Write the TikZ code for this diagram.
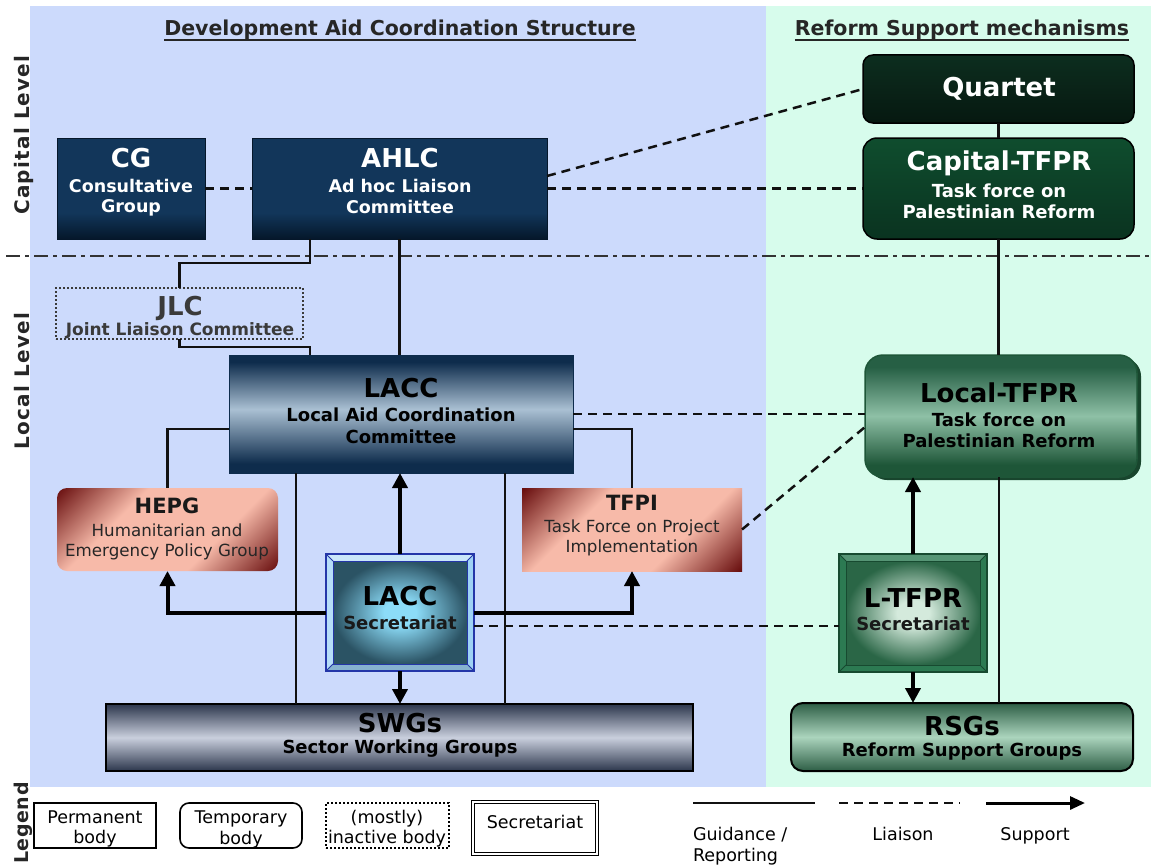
\documentclass[tikz,border=0pt]{standalone}
\usepackage{fontspec}
\setmainfont{DejaVu Sans}
\usetikzlibrary{arrows.meta,fit,calc}
\definecolor{bluebg}{HTML}{CCDAFC}
\definecolor{greenbg}{HTML}{D7FCEC}
\definecolor{navy}{HTML}{12365A}
\definecolor{navyD}{HTML}{05172A}
\definecolor{qtop}{HTML}{0D2E1F}
\definecolor{qbot}{HTML}{061810}
\definecolor{ctop}{HTML}{0F4D2E}
\definecolor{cbot}{HTML}{0A3320}
\definecolor{laccD}{HTML}{0E2C4C}
\definecolor{laccL}{HTML}{AAC0D3}
\definecolor{swgD}{HTML}{2C364C}
\definecolor{swgL}{HTML}{C9CFDD}
\definecolor{ltD}{HTML}{265F44}
\definecolor{ltL}{HTML}{8EC0A6}
\definecolor{ltB}{HTML}{1E5638}
\definecolor{rsD}{HTML}{2D5E45}
\definecolor{rsL}{HTML}{ABD4BD}
\definecolor{pinkL}{HTML}{F7BAA9}
\definecolor{pinkD}{HTML}{6A1010}
\definecolor{secF}{HTML}{9ED2F5}
\definecolor{secE}{HTML}{2436A8}
\definecolor{secL}{HTML}{8CDCF8}
\definecolor{secD}{HTML}{2B5364}
\definecolor{lsF}{HTML}{2C7A52}
\definecolor{lsE}{HTML}{174A30}
\definecolor{lsL}{HTML}{D4EADC}
\definecolor{lsD}{HTML}{2A6646}
\definecolor{lineC}{HTML}{111111}
\definecolor{jlcC}{HTML}{3A3A3A}
\pgfdeclareverticalshading{navysh}{100bp}{color(0bp)=(navyD); color(25bp)=(navyD); color(38bp)=(navy); color(75bp)=(navy); color(100bp)=(navy)}
\pgfdeclareverticalshading{laccsh}{100bp}{color(0bp)=(laccD); color(25bp)=(laccD); color(29bp)=(laccD); color(52bp)=(laccL); color(72bp)=(laccD); color(100bp)=(laccD)}
\pgfdeclareverticalshading{swgsh}{100bp}{color(0bp)=(swgD); color(25bp)=(swgD); color(50bp)=(swgL); color(75bp)=(swgD); color(100bp)=(swgD)}
\pgfdeclareverticalshading{ltsh}{100bp}{color(0bp)=(ltB); color(25bp)=(ltB); color(30bp)=(ltB); color(50bp)=(ltL); color(70bp)=(ltD); color(100bp)=(ltD)}
\pgfdeclareverticalshading{rssh}{100bp}{color(0bp)=(rsD); color(25bp)=(rsD); color(50bp)=(rsL); color(75bp)=(rsD); color(100bp)=(rsD)}
\pgfdeclarehorizontalshading{pinksh}{100bp}{color(0bp)=(pinkD); color(15bp)=(pinkD); color(36bp)=(pinkL); color(64bp)=(pinkL); color(85bp)=(pinkD); color(100bp)=(pinkD)}
\pgfdeclareradialshading{secsh}{\pgfpoint{0bp}{0bp}}{color(0bp)=(secL); color(6bp)=(secL); color(25bp)=(secD); color(50bp)=(secD)}
\pgfdeclareradialshading{lssh}{\pgfpoint{0bp}{0bp}}{color(0bp)=(lsL); color(6bp)=(lsL); color(25bp)=(lsD); color(50bp)=(lsD)}
\newcommand\myT{\fontsize{26}{30}\selectfont\bfseries}
\newcommand\myS{\fontsize{18}{22}\selectfont\bfseries}
\newcommand\myC{\fontsize{17.5}{22}\selectfont\bfseries}
\newcommand\myH{\fontsize{20.5}{24}\selectfont\bfseries}
\newcommand\myR{\fontsize{20}{24}\selectfont\bfseries\addfontfeatures{LetterSpace=6}}
\newcommand\myRg{\fontsize{19}{24}\selectfont\bfseries\addfontfeatures{LetterSpace=3}}
\newcommand\myN{\fontsize{16.7}{20}\selectfont}
\newcommand\myL{\fontsize{17.5}{21}\selectfont}
\newcommand\myP{\fontsize{21}{24}\selectfont\bfseries}
\begin{document}
\begin{tikzpicture}[x=1pt,y=-1pt,
  txt/.style={anchor=base, inner sep=0pt, outer sep=0pt},
  bx/.style={inner sep=0pt, outer sep=0pt},
  navybox/.style={bx, shade, shading=navysh, draw=navyD, line width=1pt},
  guide/.style={draw=lineC, line width=2.2pt},
  liaison/.style={draw=lineC, line width=2.5pt, dash pattern=on 9pt off 6pt},
  sup/.style={draw=black, line width=4pt, -{Triangle[length=15pt,width=15pt]}},
  pinkbox/.style={bx, shade, shading=pinksh, shading angle=-45},
  legbox/.style={bx, draw=black, line width=1.6pt, fill=white}]
\useasboundingbox (0,0) rectangle (1151,867);
\fill[white] (0,0) rectangle (1151,867);
\fill[bluebg] (30,6) rectangle (766,787);
\fill[greenbg] (766,6) rectangle (1151,787);

% titles
\node[txt, font=\myH, text=black!85] (t1) at (400,36) {Development Aid Coordination Structure};
\draw[line width=1.6pt, black!85] ($(t1.base west)+(0,4)$) -- ($(t1.base east)+(0,4)$);
\node[txt, font=\myH, text=black!85] (t2) at (962,36) {Reform Support mechanisms};
\draw[line width=1.6pt, black!85] ($(t2.base west)+(0,4)$) -- ($(t2.base east)+(0,4)$);

% side labels
\node[txt, rotate=90, font=\myR, text=black!85] (lvc) at (29,135) {Capital Level};
\node[txt, rotate=90, font=\myR, text=black!85] (lvl) at (29,381) {Local Level};
\node[txt, rotate=90, font=\myRg, text=black!85] (lvg) at (28,823) {Legend};

% level separator
\coordinate (sepA) at (6,256);
\coordinate (sepB) at (1151,256);
\draw[line width=2pt, black!80, dash pattern=on 14pt off 5pt on 4pt off 5pt] (sepA) -- (sepB);

% ---------- boxes ----------
\node[navybox, fit={(57,138)(205,239)}] (cg) {};
\node[txt, text=white, font=\myT] (cgA) at (131,167) {CG};
\node[txt, text=white, font=\myC] (cgB) at (131,192) {Consultative};
\node[txt, text=white, font=\myC] (cgC) at (131,212) {Group};

\node[navybox, fit={(252,138)(547,239)}] (ahlc) {};
\node[txt, text=white, font=\myT] (ahA) at (400,167) {AHLC};
\node[txt, text=white, font=\myC] (ahB) at (400,192) {Ad hoc Liaison};
\node[txt, text=white, font=\myC] (ahC) at (400,213) {Committee};

\node[bx, fit={(863,55)(1134,123)}, rounded corners=10pt, shade, top color=qtop, bottom color=qbot, draw=black, line width=1.5pt] (quartet) {};
\node[txt, text=white, font=\myT] (qA) at (999,96) {Quartet};

\node[bx, fit={(863,138)(1134,239)}, rounded corners=14pt, shade, top color=ctop, bottom color=cbot, draw=black, line width=1.5pt] (captfpr) {};
\node[txt, text=white, font=\myT] (cpA) at (999,170) {Capital-TFPR};
\node[txt, text=white, font=\myS] (cpB) at (999,197) {Task force on};
\node[txt, text=white, font=\myS] (cpC) at (999,218) {Palestinian Reform};

\node[bx, fit={(56,288)(303,339)}, draw=jlcC, line width=2pt, dash pattern=on 2pt off 2pt] (jlc) {};
\node[txt, text=jlcC, font=\myT] (jlA) at (180,315) {JLC};
\node[txt, text=jlcC, font=\fontsize{17}{20}\selectfont\bfseries] (jlB) at (180,335) {Joint Liaison Committee};

\node[bx, fit={(229,355)(573,473)}, shade, shading=laccsh, draw=laccD, line width=1pt] (lacc) {};
\node[txt, font=\myT] (laA) at (401,397) {LACC};
\node[txt, font=\myS] (laB) at (401,421) {Local Aid Coordination};
\node[txt, font=\myS] (laC) at (401,443) {Committee};

\node[pinkbox, fit={(57,488)(278,571)}, rounded corners=10pt] (hepg) {};
\node[txt, font=\myP, text=black!90] (heA) at (167,513) {HEPG};
\node[txt, font=\myN, text=black!85] (heB) at (167,536) {Humanitarian and};
\node[txt, font=\myN, text=black!85] (heC) at (167,556) {Emergency Policy Group};

\node[pinkbox, fit={(522,488)(742,571)}] (tfpi) {};
\node[txt, font=\myP, text=black!90] (tfA) at (632,510) {TFPI};
\node[txt, font=\myN, text=black!85] (tfB) at (632,532) {Task Force on Project};
\node[txt, font=\myN, text=black!85] (tfC) at (632,552) {Implementation};

\node[bx, fit={(106,704)(693,771)}, shade, shading=swgsh, draw=black, line width=2pt] (swgs) {};
\node[txt, font=\myT] (swA) at (400,732) {SWGs};
\node[txt, font=\myS] (swB) at (400,753) {Sector Working Groups};

% Local-TFPR with shadow
\fill[ltB!80!black, rounded corners=18pt] (869,358) rectangle (1141,480);
\node[bx, fit={(865,355)(1137,477)}, rounded corners=18pt, shade, shading=ltsh, draw=ltB, line width=1.5pt] (localtfpr) {};
\node[txt, font=\myT] (ltA) at (999,402) {Local-TFPR};
\node[txt, font=\myS] (ltB) at (999,426) {Task force on};
\node[txt, font=\myS] (ltC) at (999,447) {Palestinian Reform};

\node[bx, fit={(791,703)(1133,771)}, rounded corners=12pt, shade, shading=rssh, draw=black, line width=2pt] (rsgs) {};
\node[txt, font=\myT] (rsA) at (962,735) {RSGs};
\node[txt, font=\myS] (rsB) at (962,756) {Reform Support Groups};

% LACC Secretariat
\node[bx, fit={(326,554)(474,671)}, fill=secF, draw=secE, line width=1.6pt] (lsec) {};
\fill[secF!55!white] (326,554) -- (474,554) -- (467,561) -- (333,561) -- cycle;
\fill[secF!75!white] (326,554) -- (333,561) -- (333,664) -- (326,671) -- cycle;
\fill[secF!85!black] (326,671) -- (333,664) -- (467,664) -- (474,671) -- cycle;
\shade[shading=secsh] (333,561) rectangle (467,664);
\draw[secE, line width=1pt] (333,561) rectangle (467,664);
\draw[secE, line width=1pt] (lsec.north west) -- (333,561) (lsec.north east) -- (467,561) (lsec.south west) -- (333,664) (lsec.south east) -- (467,664);
\draw[secE, line width=1.6pt] (lsec.north west) rectangle (lsec.south east);
\node[txt, font=\myT] (lsA) at (400,605) {LACC};
\node[txt, font=\myS, text=black!90] (lsB) at (400,629) {Secretariat};

% L-TFPR Secretariat
\node[bx, fit={(839,554)(987,672)}, fill=lsF, draw=lsE, line width=1.6pt] (ltsec) {};
\fill[lsF!80!white] (839,554) -- (987,554) -- (980,561) -- (846,561) -- cycle;
\shade[shading=lssh] (846,561) rectangle (980,665);
\draw[lsE, line width=1pt] (846,561) rectangle (980,665);
\draw[lsE, line width=1pt] (ltsec.north west) -- (846,561) (ltsec.north east) -- (980,561) (ltsec.south west) -- (846,665) (ltsec.south east) -- (980,665);
\draw[lsE, line width=1.6pt] (ltsec.north west) rectangle (ltsec.south east);
\node[txt, font=\myT] (lxA) at (913,607) {L-TFPR};
\node[txt, font=\myS, text=black!90] (lxB) at (913,630) {Secretariat};

% ---------- connectors ----------
\draw[liaison] (cg.east) -- (ahlc.west);
\draw[liaison] ([yshift=12.5pt]ahlc.east) -- (quartet.west);
\draw[liaison] (ahlc.east) -- (ahlc.east -| captfpr.west);
\draw[guide] (quartet.south) -- (captfpr.north);
\draw[guide] (captfpr.south) -- (captfpr.south |- localtfpr.north);
\draw[guide] (ahlc.south -| 310,0) |- (jlc.north |- 0,263) -- (jlc.north);
\coordinate (jlcturn) at (310,347);
\draw[guide] (jlc.south) |- (jlcturn) -- (lacc.north -| jlcturn);
\draw[guide] (ahlc.south) -- (ahlc.south |- lacc.north);
\draw[guide] ([yshift=-15pt]lacc.west) -| (hepg.north);
\draw[guide] ([yshift=-15pt]lacc.east) -| (tfpi.north);
\draw[guide] (lacc.south -| 296,0) -- (swgs.north -| 296,0);
\draw[guide] (lacc.south -| 505,0) -- (swgs.north -| 505,0);
\draw[sup] (lsec.north) -- (lsec.north |- lacc.south);
\draw[sup] (lsec.west) -| (hepg.south);
\draw[sup] (lsec.east) -| (tfpi.south);
\draw[sup] (lsec.south) -- (lsec.south |- swgs.north);
\draw[liaison] ([yshift=-13.5pt]lsec.east) -- ([yshift=-13.5pt]lsec.east -| ltsec.west);
\draw[liaison] (lacc.east) -- (lacc.east -| localtfpr.west);
\draw[liaison] (tfpi.east) -- ([yshift=-11pt]localtfpr.west);
\draw[sup] (ltsec.north) -- (ltsec.north |- localtfpr.south);
\draw[sup] (ltsec.south) -- (ltsec.south |- rsgs.north);
\draw[guide] (localtfpr.south -| 999,0) -- (rsgs.north -| 999,0);

% ---------- legend ----------
\node[legbox, fit={(34,803)(156,848)}] (lgP) {};
\node[txt, font=\myL] (lgPa) at (95,823) {Permanent};
\node[txt, font=\myL] (lgPb) at (95,843) {body};
\node[legbox, fit={(180,803)(302,848)}, rounded corners=9pt] (lgT) {};
\node[txt, font=\myL] (lgTa) at (241,823) {Temporary};
\node[txt, font=\myL] (lgTb) at (241,844) {body};
\node[bx, fit={(326,803)(449,848)}, draw=black, fill=white, line width=2pt, dash pattern=on 2pt off 2pt] (lgI) {};
\node[txt, font=\myL] (lgIa) at (387,823) {(mostly)};
\node[txt, font=\myL] (lgIb) at (387,843) {inactive body};
\node[bx, fit={(473,802)(597,854)}, draw=black, double=white, double distance=2.5pt, line width=1.2pt, fill=white] (lgS) {};
\node[txt, font=\myL] (lgSa) at (535,828) {Secretariat};
\coordinate (lg1a) at (693,803);
\coordinate (lg1b) at (815,803);
\coordinate (lg2a) at (839,803);
\coordinate (lg2b) at (960,803);
\coordinate (lg3a) at (986,803);
\coordinate (lg3b) at (1085,803);
\draw[guide, line width=2.5pt] (lg1a) -- (lg1b);
\draw[liaison] (lg2a) -- (lg2b);
\draw[line width=3pt, -{Triangle[length=15pt,width=13pt]}] (lg3a) -- (lg3b);
\node[txt, font=\myL, anchor=base west] (lgGa) at (693,840) {Guidance /};
\node[txt, font=\myL, anchor=base west] (lgGb) at (693,861) {Reporting};
\node[txt, font=\myL] (lgL) at (903,840) {Liaison};
\node[txt, font=\myL] (lgU) at (1035,840) {Support};
\end{tikzpicture}
\end{document}
